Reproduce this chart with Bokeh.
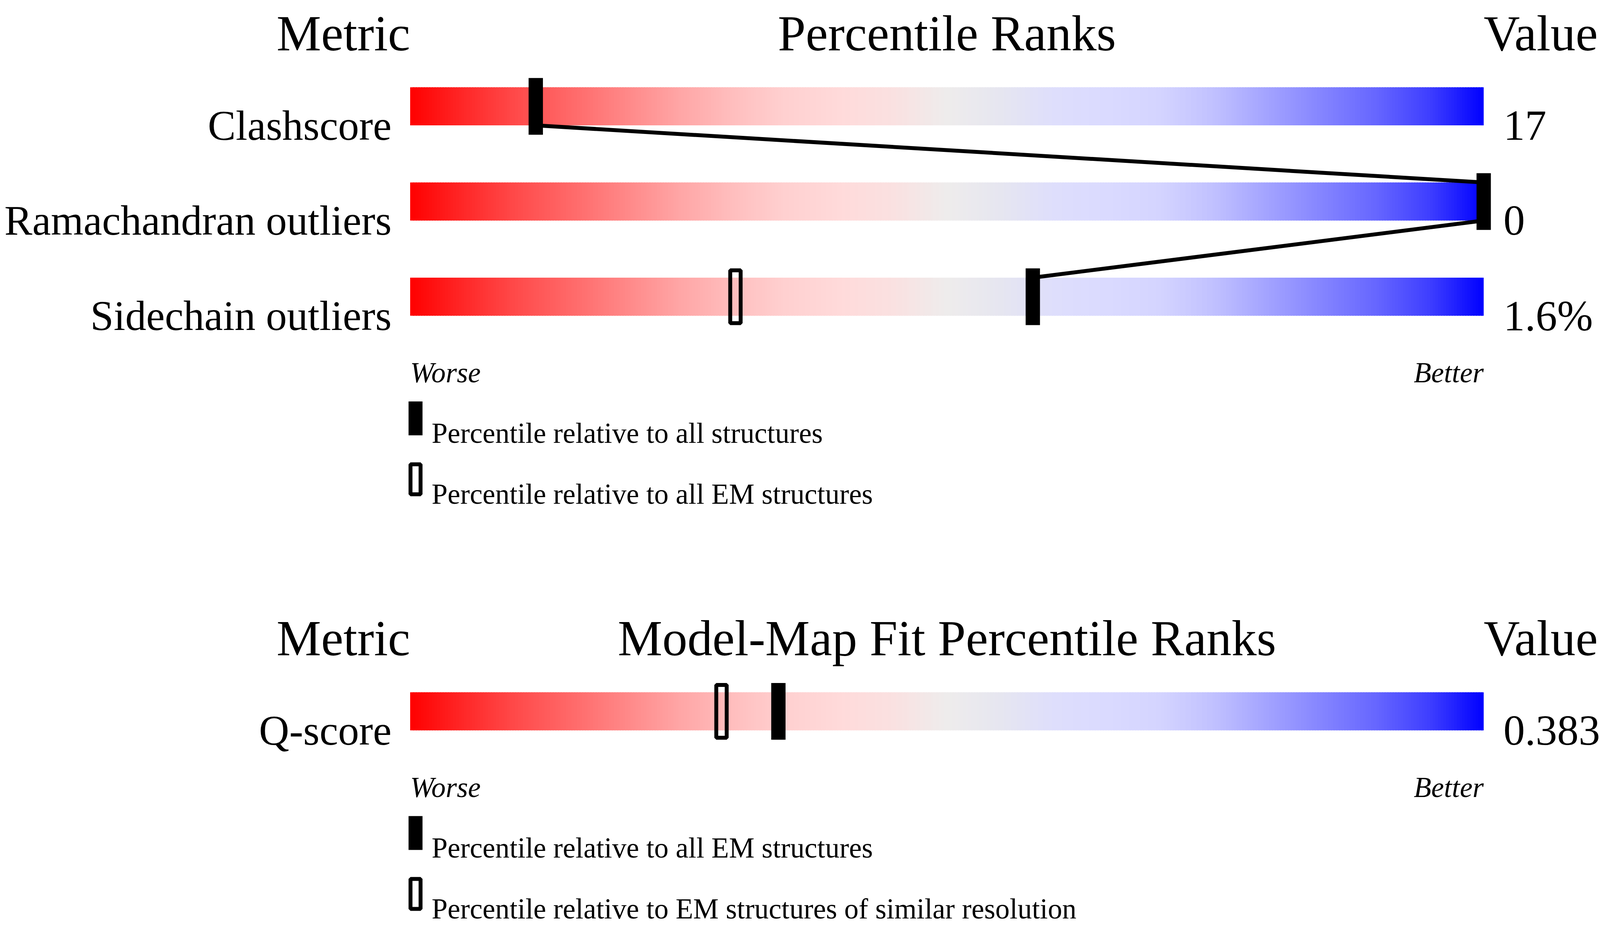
import numpy as np
from bokeh.plotting import figure
from bokeh.models import Range1d, ColumnDataSource
from bokeh.core.properties import value
from bokeh.embed import file_html
from bokeh.resources import INLINE

# ---------------- data ----------------
p1_headers = ["Metric", "Percentile Ranks", "Value"]
p1_metrics = ["Clashscore", "Ramachandran outliers", "Sidechain outliers"]
p1_values = ["17", "0", "1.6%"]
p1_pct_all = [11.7, 100.0, 58.0]          # filled marker: all structures
p1_pct_em = [np.nan, np.nan, 30.3]        # open marker: all EM structures
p1_legend = ["Percentile relative to all structures",
             "Percentile relative to all EM structures"]

p2_headers = ["Metric", "Model-Map Fit Percentile Ranks", "Value"]
p2_metrics = ["Q-score"]
p2_values = ["0.383"]
p2_pct_all = [34.3]                        # filled marker: all EM structures
p2_pct_em = [29.0]                         # open marker: similar resolution
p2_legend = ["Percentile relative to all EM structures",
             "Percentile relative to EM structures of similar resolution"]

worse_better = ["Worse", "Better"]

# gradient colour stops (style)
grad_pos = [0.0, 0.05, 0.10, 0.15, 0.20, 0.25, 0.30, 0.35, 0.40, 0.45, 0.50,
            0.55, 0.60, 0.65, 0.70, 0.75, 0.80, 0.85, 0.90, 0.95, 1.0]
grad_r = [255, 255, 255, 255, 255, 255, 255, 255, 255, 250, 238,
          230, 222, 218, 212, 192, 162, 132, 102, 62, 0]
grad_g = [0, 40, 75, 105, 135, 165, 190, 208, 218, 225, 236,
          230, 222, 218, 212, 192, 162, 132, 102, 62, 0]
grad_b = [0, 40, 75, 105, 135, 165, 190, 208, 218, 225, 236,
          240, 252, 255, 255, 255, 255, 255, 255, 255, 255]

# ---------------- layout (style) ----------------
VW = 4110                 # usable viewport width
S = VW / 4485.0           # horizontal scale
SY = 0.975                # vertical compression so the last line fits
W, H = VW - 8, 2386
PX0 = 1154 * S - 8        # frame pixel of percentile 0
PPU = 29.99 * S           # pixels per percentile
FONT = "Liberation Serif"
ROW = 250
BAR_H = 100
MARK_H = 149 * SY
MARK_W = 40 * S


def fs(px):
    return value(f"{px * S:.1f}px")


p = figure(width=W, height=H, output_backend="svg", toolbar_location=None,
           x_range=Range1d((0 - PX0) / PPU, (W - PX0) / PPU),
           y_range=Range1d((H + 8) / SY, 8 / SY),
           min_border=0, x_axis_location=None, y_axis_location=None)
p.xgrid.visible = False
p.ygrid.visible = False
p.outline_line_color = None
p.background_fill_color = "white"
p.border_fill_color = "white"


def txt(xs, ys, texts, size, align, italic=False, x_offset=0):
    p.text(x=xs, y=ys, text=texts, text_font=value(FONT),
           text_font_size=fs(size), text_align=align,
           text_baseline="alphabetic", text_color="black",
           text_font_style="italic" if italic else "normal",
           x_offset=x_offset * S)


N = 400
fr = (np.arange(N) + 0.5) / N
cols = ["#%02x%02x%02x" % (int(round(r)), int(round(g)), int(round(b))) for r, g, b in zip(
    np.interp(fr, grad_pos, grad_r), np.interp(fr, grad_pos, grad_g), np.interp(fr, grad_pos, grad_b))]


def panel(hb, headers, metrics, values, pct_all, pct_em, legend):
    # headers
    txt([0], [hb], [headers[0]], 140, "right")
    txt([50], [hb], [headers[1]], 140, "center")
    txt([100], [hb], [headers[2]], 140, "left")
    n = len(metrics)
    tops = [hb + 141 + i * ROW for i in range(n)]
    bots = [t + BAR_H for t in tops]
    mids = [t + BAR_H / 2 for t in tops]
    # gradient bars
    L, R, T, B, C = [], [], [], [], []
    for t, b in zip(tops, bots):
        for i in range(N):
            L.append(i * 100 / N)
            R.append(min((i + 1.6) * 100 / N, 100))
            T.append(t)
            B.append(b)
            C.append(cols[i])
    p.quad(source=ColumnDataSource(dict(left=L, right=R, top=T, bottom=B, color=C)),
           left="left", right="right", top="top", bottom="bottom",
           fill_color="color", line_color=None)
    # connecting lines between filled markers
    for i in range(n - 1):
        p.line(x=[pct_all[i], pct_all[i + 1]], y=[bots[i], tops[i + 1]],
               line_color="black", line_width=10)
    # markers
    p.rect(x=pct_all, y=mids, width=MARK_W, height=MARK_H,
           width_units="screen", height_units="screen",
           fill_color="black", line_color=None)
    em_x = [x for x in pct_em if not np.isnan(x)]
    em_y = [y for x, y in zip(pct_em, mids) if not np.isnan(x)]
    p.rect(x=em_x, y=em_y, width=MARK_W - 10, height=MARK_H - 10,
           width_units="screen", height_units="screen",
           fill_alpha=0, line_color="black", line_width=10)
    # labels & values
    txt([0] * n, bots, metrics, 117, "right", x_offset=-52)
    txt([100] * n, bots, values, 120, "left", x_offset=55)
    # worse / better
    wb = bots[-1] + 150
    txt([0], [wb], [worse_better[0]], 80, "left", italic=True)
    txt([100], [wb], [worse_better[1]], 80, "right", italic=True)
    # legend
    l1 = wb + 75
    l2 = l1 + 160
    p.rect(x=[0.5], y=[l1 + 44.5], width=39 * S, height=89 * SY,
           width_units="screen", height_units="screen",
           fill_color="black", line_color=None)
    p.rect(x=[0.5], y=[l2 + 44.5], width=39 * S - 10, height=89 * SY - 10,
           width_units="screen", height_units="screen",
           fill_alpha=0, line_color="black", line_width=10)
    txt([0, 0], [l1 + 84, l2 + 84], legend, 80, "left", x_offset=60)


panel(96, p1_headers, p1_metrics, p1_values, p1_pct_all, p1_pct_em, p1_legend)
panel(1685, p2_headers, p2_metrics, p2_values, p2_pct_all, p2_pct_em, p2_legend)

open("out.html", "w").write(file_html(p, INLINE))
